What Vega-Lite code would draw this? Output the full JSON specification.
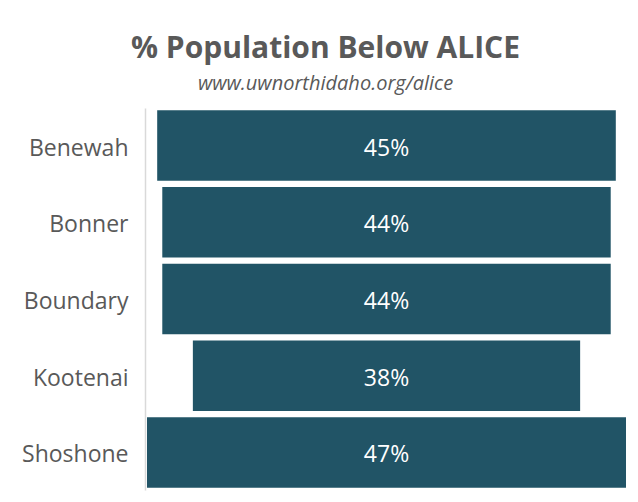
{
  "$schema": "https://vega.github.io/schema/vega-lite/v6.json",
  "autosize": {"type": "none"},
  "width": 479,
  "height": 382,
  "padding": {"left": 147, "top": 108, "right": 12, "bottom": 12},
  "background": "white",
  "config": {"view": {"stroke": null}, "font": "Open Sans"},
  "title": {
    "text": "% Population Below ALICE",
    "subtitle": "www.uwnorthidaho.org/alice",
    "anchor": "middle",
    "dx": -61,
    "font": "Open Sans",
    "fontSize": 30,
    "fontWeight": "bold",
    "color": "#595959",
    "subtitleFont": "Open Sans",
    "subtitleFontSize": 20,
    "subtitleFontStyle": "italic",
    "subtitleColor": "#595959",
    "subtitlePadding": 10,
    "offset": 14
  },
  "data": {
    "values": [
      {"county": "Benewah", "pct": 0.45},
      {"county": "Bonner", "pct": 0.44},
      {"county": "Boundary", "pct": 0.44},
      {"county": "Kootenai", "pct": 0.38},
      {"county": "Shoshone", "pct": 0.47}
    ]
  },
  "encoding": {
    "y": {
      "field": "county",
      "type": "nominal",
      "sort": null,
      "scale": {"paddingInner": 0.08, "paddingOuter": 0.03},
      "axis": {
        "title": null,
        "ticks": false,
        "domainColor": "#d9d9d9",
        "domainWidth": 1.5,
        "offset": 2,
        "labelFont": "Open Sans",
        "labelFontSize": 23,
        "labelColor": "#595959",
        "labelPadding": 17,
        "labelOffset": 3
      }
    }
  },
  "layer": [
    {
      "mark": {"type": "bar", "color": "#215466"},
      "encoding": {
        "x": {
          "field": "pct",
          "type": "quantitative",
          "stack": "center",
          "scale": {"domain": [0, 0.47], "nice": false},
          "axis": null
        }
      }
    },
    {
      "mark": {"type": "text", "color": "white", "fontSize": 23, "font": "Open Sans", "dy": 3},
      "encoding": {
        "x": {"datum": 0.235, "type": "quantitative"},
        "text": {"field": "pct", "type": "quantitative", "format": ".0%"}
      }
    }
  ]
}
